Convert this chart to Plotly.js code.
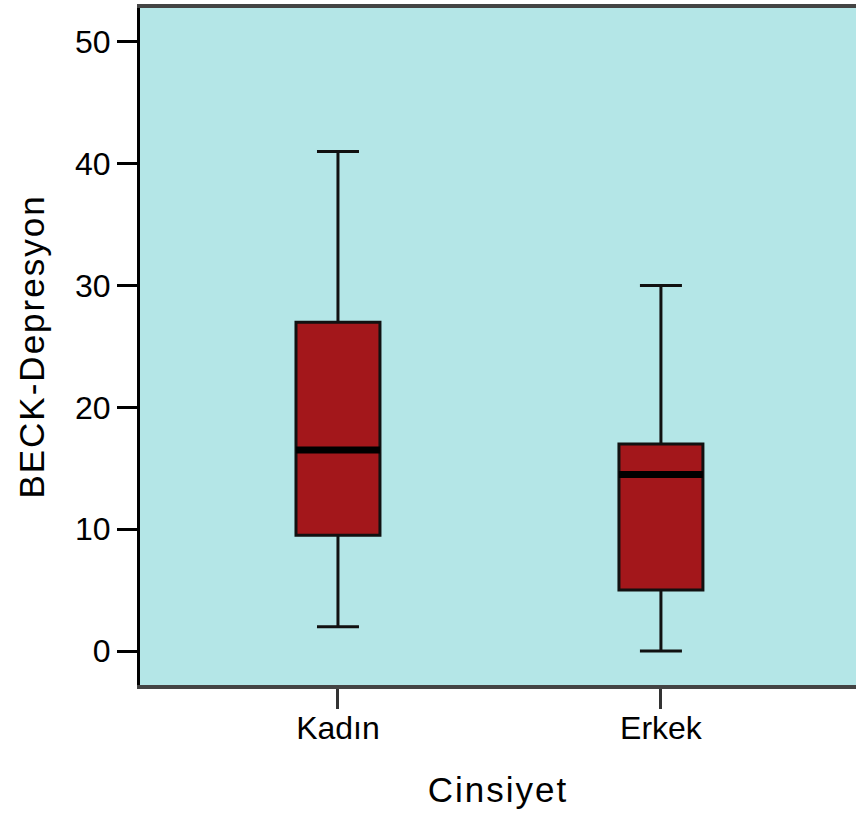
<!DOCTYPE html>
<html>
<head>
<meta charset="utf-8">
<script src="https://cdn.plot.ly/plotly-3.0.1.min.js"></script>
<style>
html, body { margin: 0; padding: 0; background: #ffffff; }
#chart { width: 856px; height: 823px; }
.xtitle, .ytitle { letter-spacing: 2px; }
</style>
</head>
<body>
<div id="chart"></div>
<script>
// Data
const categories = ["Kadın", "Erkek"];
const lowerFence = [2, 0];
const q1Values = [9.5, 5];
const medianValues = [16.5, 14.5];
const q3Values = [27, 17];
const upperFence = [41, 30];
const yTickVals = [0, 10, 20, 30, 40, 50];

const positions = categories.map((c, i) => i);
const boxWidth = 0.26;

// Thick median bars built from the median values
const medX = [], medY = [];
positions.forEach((p, i) => {
  medX.push(p - boxWidth / 2, p + boxWidth / 2, null);
  medY.push(medianValues[i], medianValues[i], null);
});

const traces = [
  {
    type: "box",
    x: positions,
    q1: q1Values,
    median: medianValues,
    q3: q3Values,
    lowerfence: lowerFence,
    upperfence: upperFence,
    width: boxWidth,
    whiskerwidth: 0.5,
    fillcolor: "#a3171b",
    line: { color: "#111111", width: 3 },
    hoverinfo: "skip",
    showlegend: false
  },
  {
    type: "scatter",
    mode: "lines",
    x: medX,
    y: medY,
    line: { color: "#000000", width: 7 },
    hoverinfo: "skip",
    showlegend: false
  }
];

const layout = {
  width: 856,
  height: 823,
  margin: { l: 140, r: 0, t: 8, b: 138 },
  paper_bgcolor: "#ffffff",
  plot_bgcolor: "#b4e6e7",
  showlegend: false,
  font: { family: "Liberation Sans, Arial, sans-serif", color: "#000000" },
  xaxis: {
    range: [-0.613, 1.604],
    tickvals: positions,
    ticktext: categories,
    ticks: "outside",
    ticklen: 20,
    tickwidth: 3,
    tickcolor: "#333333",
    tickfont: { size: 32, color: "#000000" },
    ticklabelstandoff: -8,
    showgrid: false,
    zeroline: false,
    showline: true,
    linecolor: "#444444",
    linewidth: 4,
    mirror: true,
    title: { text: "Cinsiyet", font: { size: 35, color: "#000000" }, standoff: 33 },
    automargin: false,
    fixedrange: true
  },
  yaxis: {
    range: [-2.79, 52.79],
    tickvals: yTickVals,
    ticks: "outside",
    ticklen: 20,
    tickwidth: 3,
    tickcolor: "#000000",
    tickfont: { size: 32, color: "#000000" },
    showgrid: false,
    zeroline: false,
    showline: true,
    linecolor: "#000000",
    linewidth: 3,
    title: { text: "BECK-Depresyon", font: { size: 35, color: "#000000" }, standoff: 20 },
    automargin: false,
    fixedrange: true
  }
};

Plotly.newPlot("chart", traces, layout, { displayModeBar: false, staticPlot: true });
</script>
</body>
</html>
